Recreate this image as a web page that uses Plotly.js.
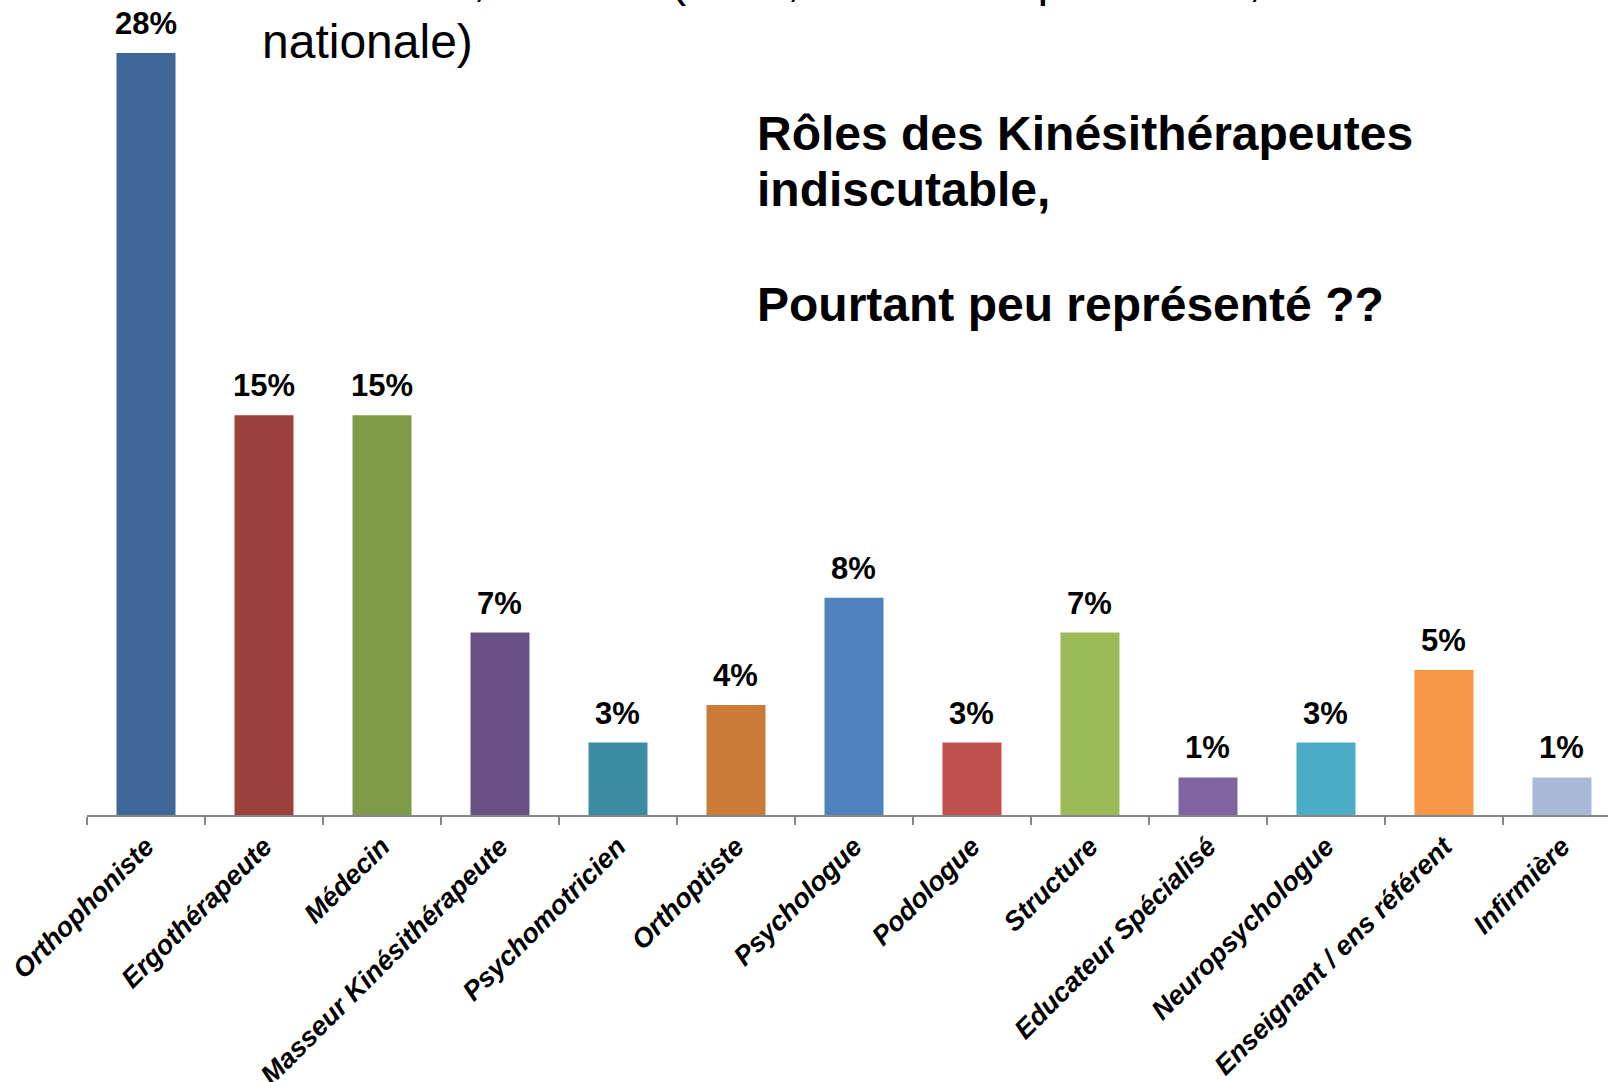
<!DOCTYPE html>
<html>
<head>
<meta charset="utf-8">
<script src="https://cdn.plot.ly/plotly-3.0.1.min.js"></script>
<style>
  html, body { margin: 0; padding: 0; background: #ffffff; }
  #chart { width: 1608px; height: 1082px; }
</style>
</head>
<body>
<div id="chart"></div>
<script>
// ---- data ----
const categories = [
  "Orthophoniste", "Ergothérapeute", "Médecin", "Masseur Kinésithérapeute",
  "Psychomotricien", "Orthoptiste", "Psychologue", "Podologue", "Structure",
  "Educateur Spécialisé", "Neuropsychologue", "Enseignant / ens référent", "Infirmière"
];
const values = [28.4, 14.9, 14.9, 6.8, 2.7, 4.1, 8.1, 2.7, 6.8, 1.4, 2.7, 5.4, 1.4];
const valueLabels = ["28%", "15%", "15%", "7%", "3%", "4%", "8%", "3%", "7%", "1%", "3%", "5%", "1%"];
const barColors = [
  "#3F6797", "#9C403E", "#7F9A48", "#6A5185", "#3C8DA3", "#CC7B38",
  "#4F81BD", "#C0504D", "#9BBB59", "#8064A2", "#4BACC6", "#F79646", "#A9B9D8"
];
const titleLines = [
  "Rôles des Kinésithérapeutes",
  "indiscutable,",
  "Pourtant peu représenté ??"
];
const contextLines = [
  "éducateur, saturés (CMP, et autres spécialisés, éducation",
  "nationale)"
];

const FONT = "'Liberation Sans', Arial, sans-serif";

const trace = {
  type: "bar",
  x: categories,
  y: values,
  marker: { color: barColors, line: { width: 0 } },
  hoverinfo: "skip"
};

const annotations = [];
categories.forEach((c, i) => {
  annotations.push({
    x: c, y: values[i], xref: "x", yref: "y",
    text: valueLabels[i],
    showarrow: false,
    xanchor: "center", yanchor: "bottom",
    yshift: 10,
    font: { family: FONT, size: 31, color: "#000000", weight: "bold" }
  });
});

const titleY = [0.8112, 0.7416, 0.5988];
titleLines.forEach((t, i) => {
  annotations.push({
    x: 0.4392, y: titleY[i], xref: "paper", yref: "paper",
    text: t, showarrow: false,
    xanchor: "left", yanchor: "bottom",
    font: { family: FONT, size: 48, color: "#000000", weight: "bold" }
  });
});

const ctxY = [1.003, 0.9255];
contextLines.forEach((t, i) => {
  annotations.push({
    x: 0.1138, y: ctxY[i], xref: "paper", yref: "paper",
    text: t, showarrow: false,
    xanchor: "left", yanchor: "bottom",
    font: { family: FONT, size: 48, color: "#000000" }
  });
});

const layout = {
  width: 1608,
  height: 1082,
  margin: { l: 87, r: 0, t: 10, b: 267, pad: 0 },
  paper_bgcolor: "#ffffff",
  plot_bgcolor: "#ffffff",
  showlegend: false,
  bargap: 0.5,
  xaxis: {
    type: "category",
    range: [-0.5, 12.39],
    showline: true,
    linecolor: "#878787",
    linewidth: 2,
    ticks: "outside",
    tickson: "boundaries",
    ticklen: 8,
    tickwidth: 2,
    tickcolor: "#878787",
    tickangle: -45,
    ticklabelstandoff: 3,
    showgrid: false,
    zeroline: false,
    tickfont: { family: FONT, size: 27, color: "#000000", weight: "bold", style: "italic" },
    fixedrange: true
  },
  yaxis: {
    range: [0, 30],
    visible: false,
    showgrid: false,
    zeroline: false,
    fixedrange: true
  },
  annotations: annotations
};

Plotly.newPlot("chart", [trace], layout, { displayModeBar: false, staticPlot: true });
</script>
</body>
</html>
